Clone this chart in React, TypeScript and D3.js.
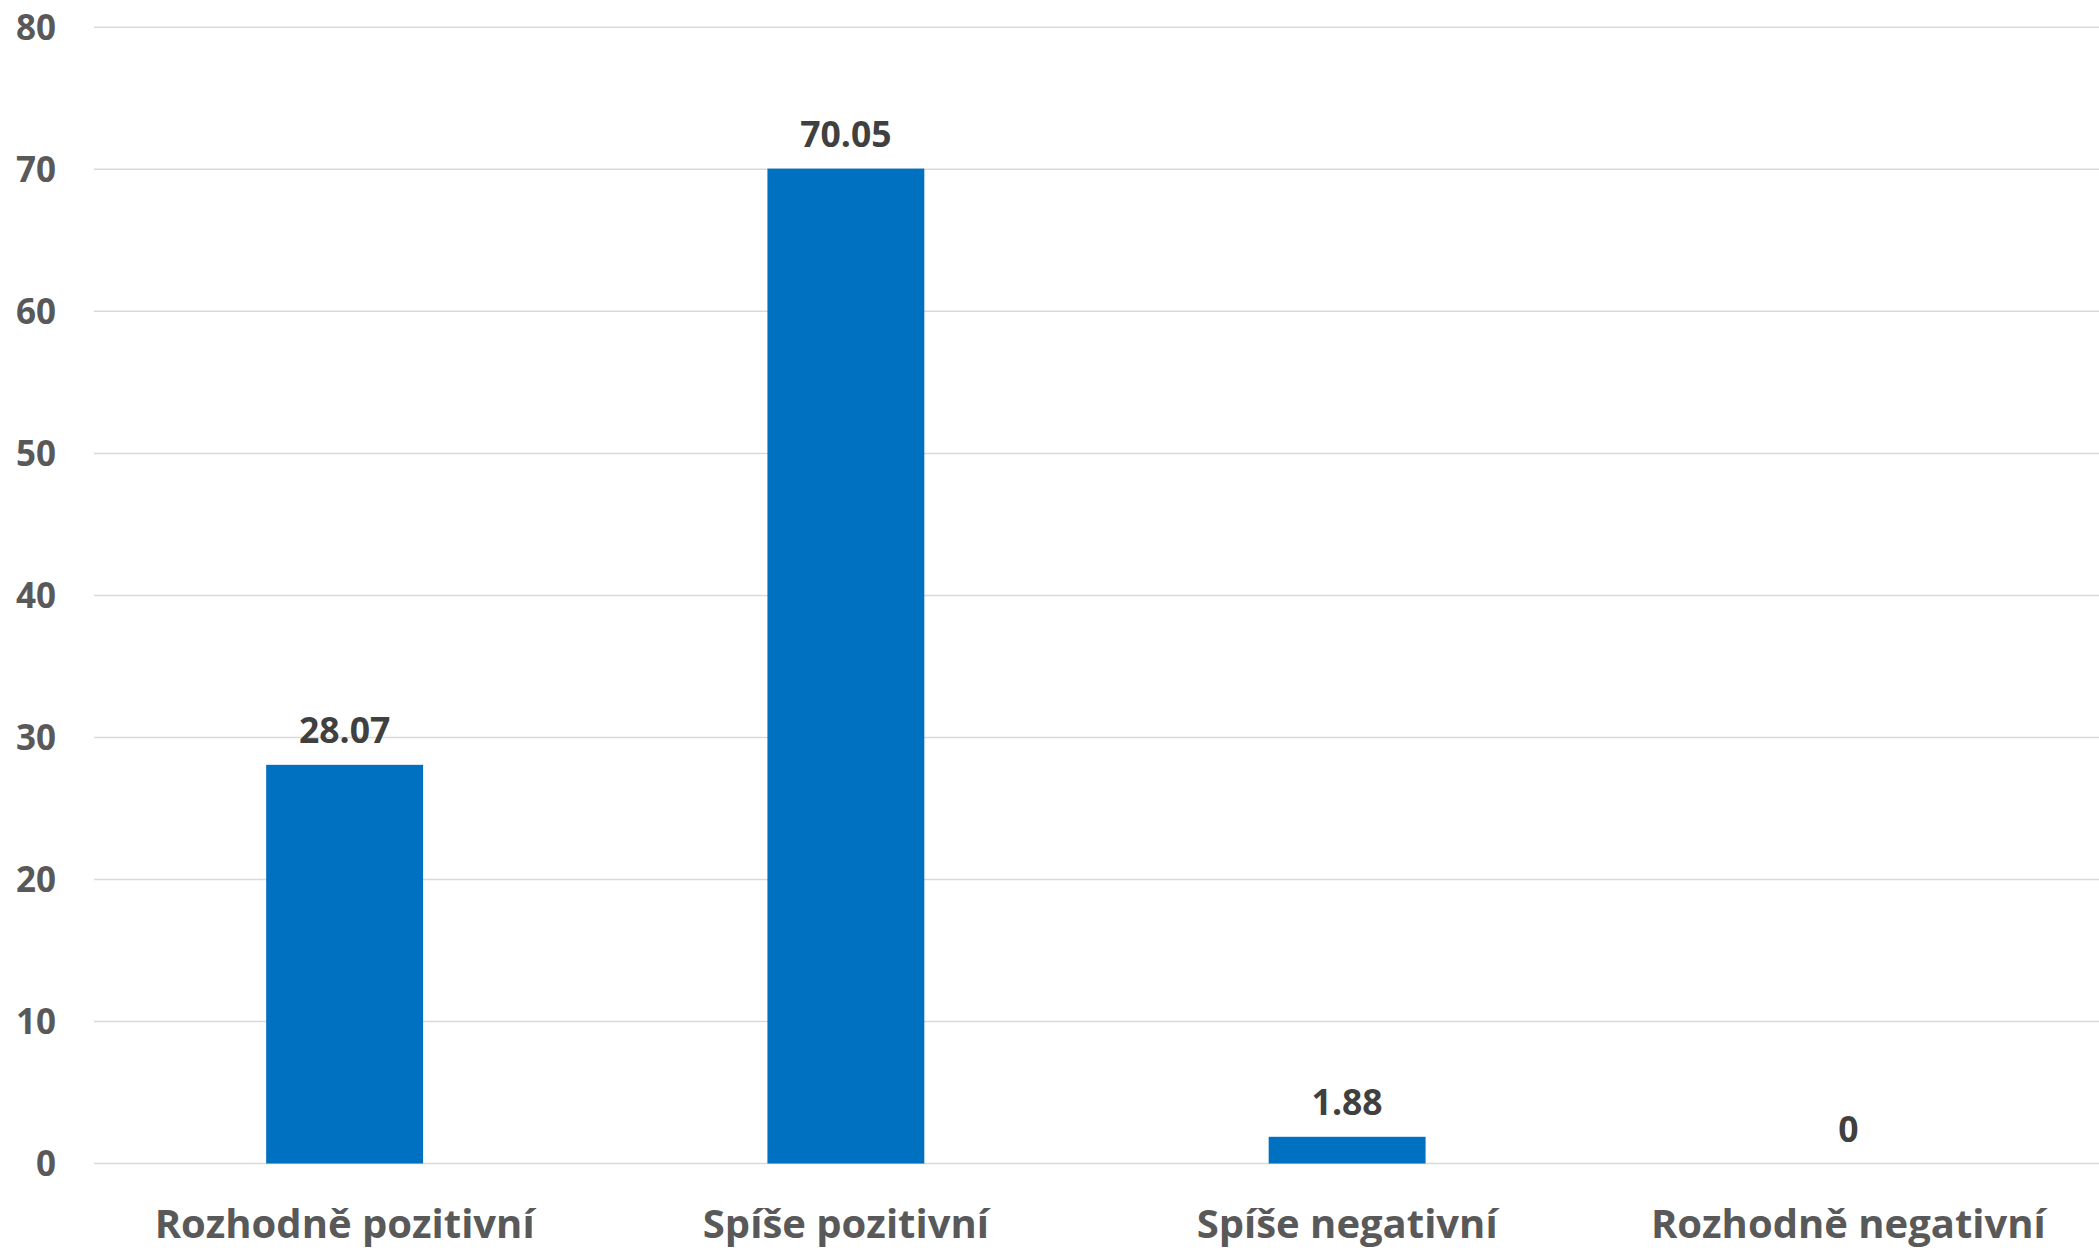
import React from "react";
import * as d3 from "d3";

const categories = ["Rozhodně pozitivní", "Spíše pozitivní", "Spíše negativní", "Rozhodně negativní"];
const values = [28.07, 70.05, 1.88, 0];
const valueLabels = ["28.07", "70.05", "1.88", "0"];
const yTicks = [0, 10, 20, 30, 40, 50, 60, 70, 80];

const W = 2099;
const H = 1250;
const FONT = "'Open Sans', sans-serif";

export default function App() {
  const x = d3.scaleBand<string>().domain(categories).range([94, 2099]).padding(0);
  const y = d3.scaleLinear().domain([0, 80]).range([1163.5, 27.3]);
  const bw = x.bandwidth() * 0.313;

  return (
    <svg width={W} height={H} style={{ position: "absolute", left: 0, top: 0, background: "#fff" }}>
      {yTicks.map((t) => (
        <g key={t}>
          <line x1={94} x2={2099} y1={y(t)} y2={y(t)} stroke="#d9d9d9" strokeWidth={1.5} />
          <text x={56} y={y(t) + 12.8} textAnchor="end" fontFamily={FONT} fontWeight={700} fontSize={35} fill="#595959">
            {t}
          </text>
        </g>
      ))}
      {categories.map((c, i) => {
        const cx = (x(c) as number) + x.bandwidth() / 2;
        return (
          <g key={c}>
            {values[i] > 0 && (
              <rect x={cx - bw / 2} y={y(values[i])} width={bw} height={y(0) - y(values[i])} fill="#0070c0" />
            )}
            <text x={cx} y={y(values[i]) - 22} textAnchor="middle" fontFamily={FONT} fontWeight={700} fontSize={35.5} fill="#404040">
              {valueLabels[i]}
            </text>
            <text x={cx} y={1238} textAnchor="middle" fontFamily={FONT} fontWeight={700} fontSize={40} fill="#595959">
              {c}
            </text>
          </g>
        );
      })}
    </svg>
  );
}
